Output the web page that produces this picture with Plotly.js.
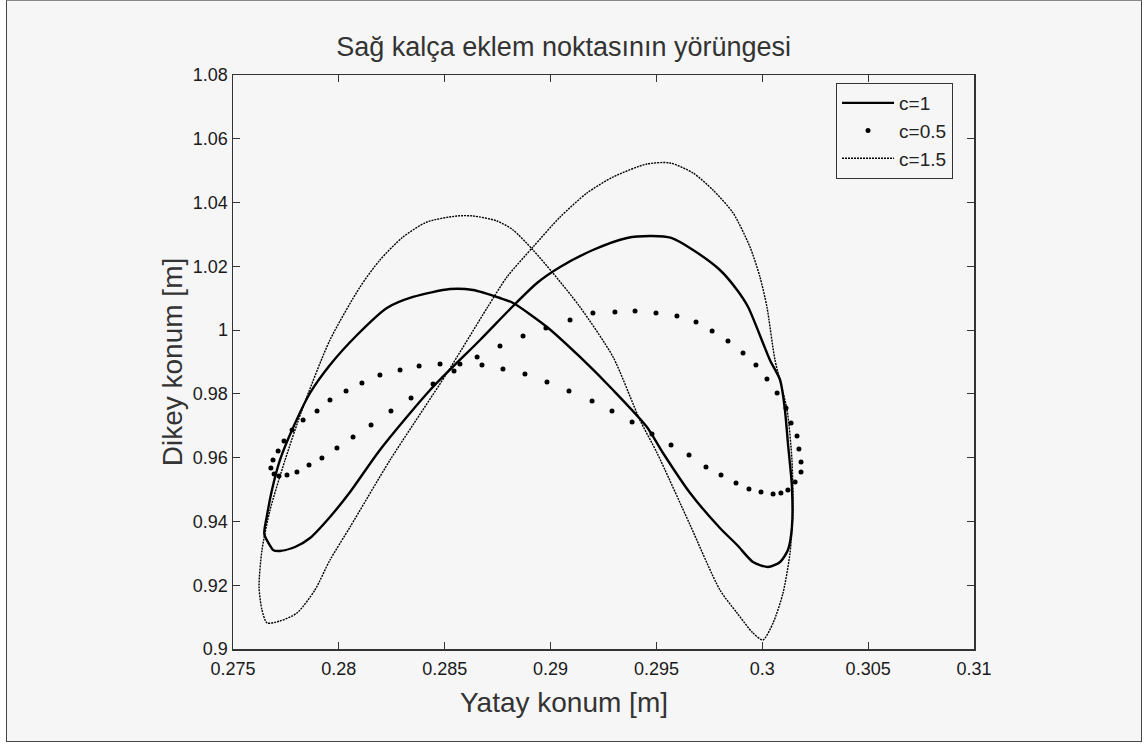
<!DOCTYPE html>
<html>
<head>
<meta charset="utf-8">
<script src="https://cdn.plot.ly/plotly-3.0.1.min.js"></script>
<style>
html,body{margin:0;padding:0;background:#ffffff;}
#frame{position:absolute;left:6px;top:0px;width:1134px;height:740px;border:1px solid #444;border-top-color:#888;background:#f6f6f6;box-sizing:content-box;}
#chart{position:absolute;left:0;top:0;width:1148px;height:744px;}
</style>
</head>
<body>
<div id="frame"></div>
<div id="chart"></div>
<script>
// c = 1 (solid)
const c1x = [0.27679,0.27689,0.27722,0.27793,0.27864,0.27958,0.28053,0.28194,0.28431,0.28667,0.28823,0.28936,0.29045,0.29200,0.29361,0.29480,0.29570,0.29673,0.29800,0.29881,0.29933,0.30036,0.30084,0.30107,0.30121,0.30140,0.30140,0.30121,0.30084,0.30027,0.29956,0.29881,0.29800,0.29659,0.29531,0.29455,0.29295,0.29139,0.28983,0.28823,0.28761,0.28634,0.28525,0.28350,0.28227,0.28086,0.27958,0.27864,0.27783,0.27722,0.27684,0.27661,0.27648,0.27679];
const c1y = [0.93199,0.93105,0.93074,0.93199,0.93481,0.94140,0.94924,0.96241,0.98122,0.99690,1.00756,1.01478,1.01979,1.02512,1.02889,1.02950,1.02890,1.02512,1.01885,1.01258,1.00725,0.99063,0.98436,0.97495,0.96460,0.95081,0.93826,0.93105,0.92729,0.92572,0.92729,0.93262,0.93795,0.94892,0.96147,0.96962,0.98122,0.99157,1.00098,1.00850,1.01007,1.01258,1.01289,1.01039,1.00694,0.99847,0.98906,0.98028,0.96931,0.95927,0.94986,0.94203,0.93600,0.93199];

// c = 0.5 (markers)
const c05x = [0.27717,0.27755,0.27802,0.27859,0.27920,0.27991,0.28067,0.28152,0.28246,0.28341,0.28445,0.28544,0.28653,0.28761,0.28870,0.28978,0.29092,0.29200,0.29304,0.29399,0.29498,0.29597,0.29687,0.29763,0.29838,0.29909,0.29970,0.30022,0.30070,0.30112,0.30136,0.30164,0.30173,0.30183,0.30183,0.30155,0.30121,0.30088,0.30051,0.29994,0.29937,0.29876,0.29805,0.29734,0.29654,0.29569,0.29479,0.29385,0.29290,0.29196,0.29087,0.28983,0.28879,0.28775,0.28676,0.28572,0.28478,0.28379,0.28289,0.28194,0.28109,0.28034,0.27958,0.27897,0.27831,0.27779,0.27741,0.27713,0.27689,0.27679,0.27694];
const c05y = [0.95425,0.95457,0.95551,0.95770,0.95990,0.96303,0.96648,0.97025,0.97464,0.97871,0.98310,0.98718,0.99157,0.99502,0.99816,1.00066,1.00317,1.00537,1.00568,1.00600,1.00537,1.00443,1.00255,0.99972,0.99659,0.99282,0.98906,0.98467,0.98028,0.97558,0.97087,0.96680,0.96272,0.95864,0.95551,0.95237,0.94986,0.94892,0.94861,0.94924,0.95018,0.95206,0.95457,0.95708,0.96084,0.96398,0.96742,0.97119,0.97464,0.97777,0.98091,0.98373,0.98624,0.98781,0.98906,0.98938,0.98938,0.98875,0.98749,0.98593,0.98342,0.98091,0.97809,0.97464,0.97181,0.96868,0.96523,0.96209,0.95927,0.95676,0.95488];

// c = 1.5 (dotted)
const c15x = [0.27661,0.27722,0.27802,0.27887,0.27958,0.28053,0.28242,0.28511,0.28700,0.28794,0.28917,0.29045,0.29172,0.29295,0.29455,0.29564,0.29673,0.29767,0.29862,0.29942,0.29989,0.30022,0.30060,0.30117,0.30140,0.30145,0.30131,0.30098,0.30051,0.30003,0.29956,0.29881,0.29800,0.29659,0.29503,0.29422,0.29295,0.29139,0.29011,0.28917,0.28823,0.28747,0.28634,0.28558,0.28416,0.28303,0.28194,0.28100,0.27958,0.27831,0.27746,0.27675,0.27637,0.27623,0.27637,0.27661];
const c15y = [0.90816,0.90879,0.91129,0.91851,0.92791,0.93826,0.95927,0.98655,1.00694,1.01666,1.02606,1.03547,1.04300,1.04801,1.05209,1.05241,1.04927,1.04394,1.03673,1.02606,1.01666,1.00725,0.99063,0.97495,0.95927,0.94359,0.93011,0.91757,0.90816,0.90283,0.90502,0.91129,0.91851,0.93889,0.96147,0.97181,0.99157,1.00725,1.01791,1.02512,1.03140,1.03422,1.03579,1.03579,1.03390,1.02920,1.02199,1.01352,0.99690,0.97589,0.95927,0.94359,0.93105,0.91945,0.91224,0.90816];

const xTickVals = [0.275,0.28,0.285,0.29,0.295,0.3,0.305,0.31];
const xTickText = ['0.275','0.28','0.285','0.29','0.295','0.3','0.305','0.31'];
const yTickVals = [0.9,0.92,0.94,0.96,0.98,1.0,1.02,1.04,1.06,1.08];
const yTickText = ['0.9','0.92','0.94','0.96','0.98','1','1.02','1.04','1.06','1.08'];

const seriesNames = ['c=1','c=0.5','c=1.5'];
const xTitle = 'Yatay konum [m]';
const yTitle = 'Dikey konum [m]';
const chartTitle = 'Sağ kalça eklem noktasının yörüngesi';

const FONT = 'Liberation Sans, Arial, sans-serif';

const traces = [
  {x:c1x, y:c1y, name:seriesNames[0], legendgroup:'a', type:'scatter', mode:'lines',
   line:{color:'#000', width:2.4, shape:'spline', smoothing:0.7}},
  {x:c05x, y:c05y, name:seriesNames[1], legendgroup:'b', type:'scatter', mode:'markers',
   marker:{color:'#000', size:5, symbol:'circle'}},
  {x:c15x, y:c15y, name:seriesNames[2], legendgroup:'c', type:'scatter', mode:'lines',
   line:{color:'#000', width:1.4, dash:'2px,1px', shape:'spline', smoothing:0.7}}
];

const axisCommon = {
  showgrid:false, zeroline:false, showline:true, mirror:'ticks',
  linecolor:'#333', linewidth:1.5, ticks:'inside', ticklen:7, tickwidth:1,
  tickcolor:'#333', tickfont:{family:FONT, size:18, color:'#1a1a1a'}
};

const layout = {
  width:1148, height:744,
  margin:{l:233, r:174, t:75, b:95},
  paper_bgcolor:'rgba(0,0,0,0)', plot_bgcolor:'rgba(0,0,0,0)',
  title:{text:chartTitle, x:0.491, xanchor:'center', y:0.937, yanchor:'middle',
         font:{family:FONT, size:27, color:'#333'}},
  xaxis:Object.assign({}, axisCommon, {range:[0.275,0.31], tickvals:xTickVals, ticktext:xTickText, ticklabelstandoff:3}),
  yaxis:Object.assign({}, axisCommon, {range:[0.9,1.08], tickvals:yTickVals, ticktext:yTickText,
         title:{text:yTitle, standoff:2, font:{family:FONT, size:28, color:'#333'}}}),
  annotations:[{text:xTitle, xref:'paper', yref:'paper', x:0.4467, y:-0.094, xanchor:'center', yanchor:'middle',
         showarrow:false, font:{family:FONT, size:28, color:'#333'}}],
  showlegend:true,
  legend:{x:0.9717, y:0.986, xanchor:'right', yanchor:'top', bgcolor:'#f6f6f6', bordercolor:'#333', borderwidth:1,
          font:{family:FONT, size:19, color:'#222'}, tracegroupgap:0, itemwidth:52}
};

Plotly.newPlot('chart', traces, layout, {displayModeBar:false, staticPlot:true});
</script>
</body>
</html>
